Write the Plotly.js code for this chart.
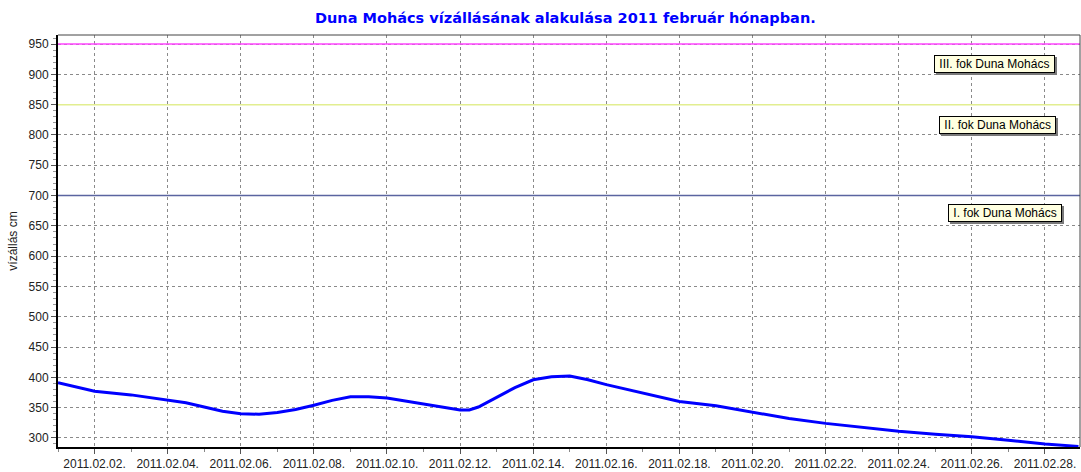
<!DOCTYPE html>
<html>
<head>
<meta charset="utf-8">
<script src="https://cdn.plot.ly/plotly-3.0.1.min.js"></script>
<style>html,body{margin:0;padding:0;background:#fff;}#chart{width:1081px;height:472px;}</style>
</head>
<body>
<div id="chart"></div>
<script>
const dates = [
  "2011-02-01 00:00","2011-02-01 12:00","2011-02-02 00:00","2011-02-03 00:00","2011-02-04 00:00",
  "2011-02-04 12:00","2011-02-05 00:00","2011-02-05 12:00","2011-02-06 00:00","2011-02-06 12:00",
  "2011-02-07 00:00","2011-02-07 12:00","2011-02-08 00:00","2011-02-08 12:00","2011-02-09 00:00",
  "2011-02-09 12:00","2011-02-10 00:00","2011-02-10 12:00","2011-02-11 00:00","2011-02-11 12:00",
  "2011-02-12 00:00","2011-02-12 06:00","2011-02-12 12:00","2011-02-13 00:00","2011-02-13 12:00",
  "2011-02-14 00:00","2011-02-14 12:00","2011-02-15 00:00","2011-02-15 12:00","2011-02-16 00:00",
  "2011-02-16 12:00","2011-02-17 00:00","2011-02-17 12:00","2011-02-18 00:00","2011-02-19 00:00",
  "2011-02-20 00:00","2011-02-21 00:00","2011-02-22 00:00","2011-02-23 00:00","2011-02-24 00:00",
  "2011-02-25 00:00","2011-02-26 00:00","2011-02-27 00:00","2011-02-28 00:00","2011-02-28 22:00"
];
const levels = [
  391, 384, 377, 371, 363,
  358, 351, 344, 340, 339,
  342, 347, 354, 362, 368,
  368, 366, 361, 355, 350,
  346, 346, 351, 367, 383,
  396, 401, 402, 396, 388,
  381, 373, 366, 360, 353,
  343, 332, 324, 317, 311,
  306, 302, 296, 290, 286
];
const thresholdNames = ["III. fok Duna Mohács", "II. fok Duna Mohács", "I. fok Duna Mohács"];
const thresholdValues = [950, 850, 700];
const thresholdColors = ["#ff44ff", "#e2ee90", "#5a64a0"];
const labelValues = [917, 816, 671];
const labelCenters = ["2011-02-26 15:00", "2011-02-26 17:00", "2011-02-26 22:00"];

const traces = [{
  x: dates, y: levels, type: "scatter", mode: "lines",
  line: {color: "#0000ff", width: 3, shape: "linear"},
  hoverinfo: "x+y", showlegend: false
}];

const xStart = "2011-02-01 00:00", xEnd = "2011-02-28 23:00";
const shapes = thresholdValues.map((v, i) => ({
  type: "line", xref: "x", yref: "y", x0: xStart, x1: xEnd, y0: v, y1: v,
  line: {color: thresholdColors[i], width: 1.5}, layer: "above"
}));
shapes.push({type: "line", xref: "paper", yref: "paper", x0: 0, x1: 1, y0: 1, y1: 1, line: {color: "#444", width: 1}});
shapes.push({type: "line", xref: "paper", yref: "paper", x0: 1, x1: 1, y0: 0, y1: 1, line: {color: "#444", width: 1}});

const annotations = [];
thresholdNames.forEach((t, i) => {
  const padded = "\u00a0" + t + "\u00a0";
  annotations.push({
    text: padded, xref: "x", yref: "y", x: labelCenters[i], y: labelValues[i],
    xshift: 2, yshift: -2,
    showarrow: false, bgcolor: "#7a7a7a", bordercolor: "#7a7a7a", borderwidth: 1, borderpad: 1,
    font: {family: "Liberation Sans, Arial, sans-serif", size: 12, color: "rgba(0,0,0,0)"}
  });
  annotations.push({
    text: padded, xref: "x", yref: "y", x: labelCenters[i], y: labelValues[i],
    showarrow: false, bgcolor: "#ffffe1", bordercolor: "#000", borderwidth: 1, borderpad: 1,
    font: {family: "Liberation Sans, Arial, sans-serif", size: 12, color: "#000"}
  });
});

const layout = {
  width: 1081, height: 472,
  margin: {l: 58, r: 1, t: 35, b: 25},
  paper_bgcolor: "#fff", plot_bgcolor: "#fff",
  title: {text: "<b>Duna Mohács vízállásának alakulása 2011 február hónapban.</b>",
    font: {family: "DejaVu Sans, Verdana, sans-serif", size: 14.5, color: "#0000ff"},
    x: 0.523, xanchor: "center", y: 0.963, yanchor: "middle"},
  xaxis: {
    type: "date", range: [xStart, xEnd],
    tick0: "2011-02-02", dtick: 2 * 86400000, tickformat: "%Y.%m.%d.",
    showgrid: true, gridcolor: "#8a8a8a", griddash: "3px,3px", gridwidth: 1,
    showline: true, linecolor: "#000", linewidth: 2,
    ticks: "outside", ticklen: 5, tickcolor: "#555",
    minor: {dtick: 86400000, ticks: "outside", ticklen: 3, tickcolor: "#888", showgrid: false},
    tickfont: {family: "Liberation Sans, Arial, sans-serif", size: 12, color: "#222"},
    zeroline: false, fixedrange: true
  },
  yaxis: {
    range: [285, 965], tick0: 300, dtick: 50,
    showgrid: true, gridcolor: "#8a8a8a", griddash: "3px,3px", gridwidth: 1,
    showline: true, linecolor: "#000", linewidth: 2,
    ticks: "outside", ticklen: 5, tickcolor: "#555",
    minor: {dtick: 10, ticks: "outside", ticklen: 3, tickcolor: "#999", showgrid: false},
    tickfont: {family: "Liberation Sans, Arial, sans-serif", size: 12, color: "#222"},
    title: {text: "vízállás cm", font: {family: "Liberation Sans, Arial, sans-serif", size: 12, color: "#222"}, standoff: 8},
    zeroline: false, fixedrange: true
  },
  shapes: shapes, annotations: annotations,
  hovermode: "closest", showlegend: false
};

Plotly.newPlot("chart", traces, layout, {displayModeBar: false});
</script>
</body>
</html>
